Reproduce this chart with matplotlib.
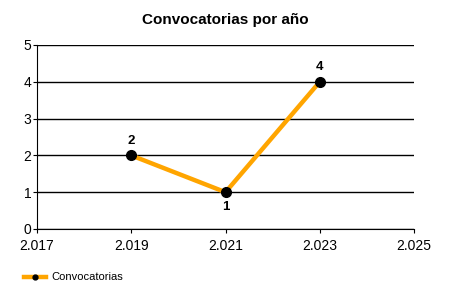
import matplotlib.pyplot as plt
from matplotlib.ticker import FuncFormatter, FixedLocator

plt.rcParams['font.family'] = ['Liberation Sans', 'DejaVu Sans']

years = [2019, 2021, 2023]
convocatorias = [2, 1, 4]
label_pos = ['above', 'below', 'above']
x_ticks = [2017, 2019, 2021, 2023, 2025]
y_ticks = [0, 1, 2, 3, 4, 5]

fig = plt.figure(figsize=(4.5, 3), dpi=100)
ax = fig.add_axes([37 / 450, 1 - 229 / 300, (414 - 37) / 450, (229 - 45) / 300])

ax.plot(years, convocatorias, color='#FFA500', linewidth=3.2, marker='o',
        markersize=7, markerfacecolor='black', markeredgecolor='black',
        label='Convocatorias', zorder=3)

for x, y, pos in zip(years, convocatorias, label_pos):
    off = 6 if pos == 'above' else -6
    ax.annotate(str(y), (x, y), xytext=(0, off), textcoords='offset points',
                ha='center', va='bottom' if pos == 'above' else 'top',
                fontsize=9.5, fontweight='bold')

ax.set_xlim(2017, 2025)
ax.set_ylim(0, 5)
ax.xaxis.set_major_locator(FixedLocator(x_ticks))
ax.yaxis.set_major_locator(FixedLocator(y_ticks))
ax.xaxis.set_major_formatter(FuncFormatter(lambda v, p: f'{int(v):,}'.replace(',', '.')))

ax.grid(axis='y', color='black', linewidth=1)
ax.set_axisbelow(True)
for s in ['top', 'right']:
    ax.spines[s].set_visible(False)
ax.tick_params(axis='both', labelsize=10, length=3, color='black')
ax.tick_params(axis='x', pad=4)
ax.tick_params(axis='y', pad=1)

ax.set_title('Convocatorias por año', fontsize=11, fontweight='bold', pad=15)

fig.legend(loc='lower left', bbox_to_anchor=(0.03, 0.025), frameon=False,
           fontsize=8, handlelength=2.0, handletextpad=0.5, markerscale=0.5)

fig.savefig('out.png', dpi=100)
